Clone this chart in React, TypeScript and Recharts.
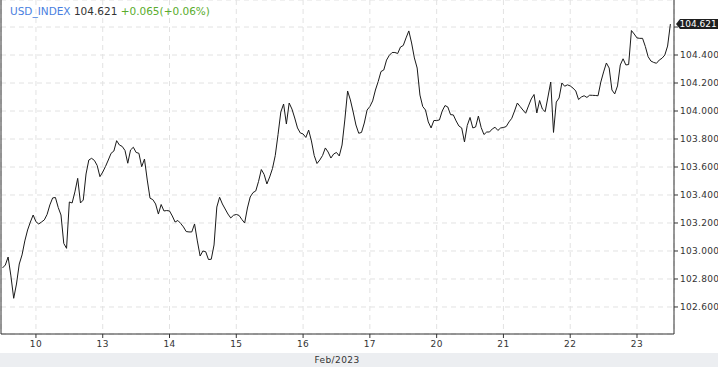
import React from "react";
import { LineChart, Line, XAxis, YAxis, CartesianGrid, ReferenceLine } from "recharts";

const symbol = "USD_INDEX";
const changeAbs = 0.065;
const changePct = 0.06;
const dayLabels = ["10", "13", "14", "15", "16", "17", "20", "21", "22", "23"];
const monthLabel = "Feb/2023";
const firstHourOfSeries = 12; // series begins at 12:00 of the day before the first label
const priceTicks = [102.6, 102.8, 103.0, 103.2, 103.4, 103.6, 103.8, 104.0, 104.2, 104.4, 104.6];

const hourlyClose = [
  102.879, 102.900, 102.957, 102.822, 102.662, 102.764, 102.907, 102.972, 103.072, 103.150,
  103.207, 103.257, 103.209, 103.193, 103.207, 103.222, 103.261, 103.329, 103.379, 103.382,
  103.311, 103.257, 103.054, 103.019, 103.350, 103.343, 103.422, 103.519, 103.343, 103.364,
  103.550, 103.650, 103.662, 103.647, 103.611, 103.531, 103.564, 103.604, 103.650, 103.698,
  103.714, 103.788, 103.757, 103.747, 103.718, 103.627, 103.722, 103.741, 103.704, 103.698,
  103.602, 103.657, 103.507, 103.377, 103.367, 103.336, 103.264, 103.332, 103.286, 103.289,
  103.286, 103.250, 103.207, 103.218, 103.197, 103.172, 103.139, 103.136, 103.136, 103.193,
  103.072, 102.964, 103.000, 102.995, 102.939, 102.941, 103.043, 103.314, 103.384, 103.336,
  103.300, 103.264, 103.236, 103.255, 103.261, 103.254, 103.225, 103.200, 103.307, 103.386,
  103.417, 103.429, 103.497, 103.582, 103.547, 103.479, 103.529, 103.589, 103.682, 103.832,
  103.993, 104.050, 103.907, 104.057, 104.014, 103.950, 103.879, 103.843, 103.836, 103.811,
  103.864, 103.786, 103.682, 103.625, 103.650, 103.682, 103.736, 103.707, 103.664, 103.693,
  103.704, 103.679, 103.757, 103.936, 104.143, 104.079, 103.993, 103.900, 103.841, 103.847,
  103.914, 104.007, 104.032, 104.072, 104.150, 104.211, 104.282, 104.293, 104.364, 104.398,
  104.418, 104.418, 104.411, 104.457, 104.468, 104.522, 104.572, 104.486, 104.379, 104.307,
  104.114, 104.032, 104.007, 103.922, 103.879, 103.932, 103.932, 103.936, 104.000, 104.039,
  104.029, 103.974, 103.972, 103.929, 103.893, 103.879, 103.779, 103.897, 103.954, 103.879,
  103.886, 103.964, 103.882, 103.832, 103.850, 103.850, 103.872, 103.884, 103.861, 103.879,
  103.882, 103.889, 103.922, 103.948, 104.000, 104.057, 104.032, 104.007, 103.984, 104.036,
  104.086, 104.118, 103.986, 104.075, 104.014, 103.995, 104.100, 104.207, 103.847, 104.064,
  104.093, 104.200, 104.177, 104.187, 104.179, 104.164, 104.143, 104.082, 104.100, 104.109,
  104.097, 104.113, 104.112, 104.111, 104.109, 104.207, 104.279, 104.343, 104.307, 104.150,
  104.122, 104.179, 104.329, 104.373, 104.329, 104.332, 104.575, 104.550, 104.522, 104.519,
  104.519, 104.461, 104.388, 104.357, 104.347, 104.341, 104.364, 104.377, 104.400, 104.464,
  104.621,
];

const data = hourlyClose.map((v, i) => ({ h: i, v }));
const dayTicks = dayLabels.map((_, i) => firstHourOfSeries + i * 24);
const lastPrice = hourlyClose[hourlyClose.length - 1];

const FONT = "'DejaVu Sans', sans-serif";

const PriceTag = (props: any) => {
  const vb = props.viewBox || {};
  const x0 = vb.x + vb.width + 2;
  const y = vb.y;
  const w = 44;
  const h = 10;
  const path = `M${x0},${y} L${x0 + 4},${y - h / 2} L${x0 + w},${y - h / 2} L${x0 + w},${y + h / 2} L${x0 + 4},${y + h / 2} Z`;
  return (
    <g>
      <path d={path} fill="#1e1e1e" />
      <text x={x0 + 3.5} y={y} dy="0.36em" fill="#ffffff" fontSize={9} fontFamily={FONT}>
        {lastPrice.toFixed(3)}
      </text>
    </g>
  );
};

export default function App() {
  return (
    <div style={{ position: "absolute", left: 0, top: 0, width: 718, height: 367, background: "#ffffff", overflow: "hidden" }}>
      <div style={{ position: "absolute", left: 0, top: 353, width: 718, height: 14, background: "#eceef1" }} />
      <div
        style={{
          position: "absolute",
          left: 0,
          top: 353,
          width: 674,
          textAlign: "center",
          fontFamily: FONT,
          fontSize: 9,
          lineHeight: "14px",
          color: "#333",
          letterSpacing: 0.4,
        }}
      >
        {monthLabel}
      </div>
      <div style={{ position: "absolute", left: 0, top: 0 }}>
        <LineChart width={718} height={353} data={data} margin={{ top: 0, right: 0, bottom: 0, left: 0 }}>
          <CartesianGrid stroke="#e2e2e2" strokeDasharray="5 4" />
          <XAxis
            dataKey="h"
            type="number"
            domain={[-0.56, 241.3]}
            ticks={dayTicks}
            tickFormatter={(t: number) => dayLabels[Math.round((t - firstHourOfSeries) / 24)]}
            height={19}
            tickSize={4}
            tickMargin={3}
            stroke="#333"
            tick={{ fill: "#333", fontSize: 9, fontFamily: FONT, letterSpacing: 0.4 }}
            allowDataOverflow
          />
          <YAxis
            orientation="right"
            type="number"
            domain={[102.407, 104.793]}
            ticks={priceTicks}
            tickFormatter={(t: number) => (Math.abs(t - lastPrice) < 0.05 ? "" : t.toFixed(3))}
            width={44}
            tickSize={4}
            tickMargin={2}
            stroke="#333"
            tick={{ fill: "#333", fontSize: 9, fontFamily: FONT, letterSpacing: 0.3 }}
            allowDataOverflow
          />
          <YAxis
            yAxisId="left"
            orientation="left"
            width={1}
            tick={false}
            tickLine={false}
            stroke="#333"
          />
          <Line
            type="linear"
            dataKey="v"
            stroke="#1a1a1a"
            strokeWidth={1}
            dot={false}
            isAnimationActive={false}
          />
          <ReferenceLine y={lastPrice} stroke="none" ifOverflow="visible" label={<PriceTag />} />
        </LineChart>
      </div>
      <div
        style={{
          position: "absolute",
          left: 10,
          top: 4,
          fontFamily: FONT,
          fontSize: 10.5,
          lineHeight: "14px",
          whiteSpace: "nowrap",
        }}
      >
        <span style={{ color: "#4a7fe0" }}>{symbol}</span>
        <span style={{ color: "#333" }}> {lastPrice.toFixed(3)} </span>
        <span style={{ color: "#5aac2e" }}>
          +{changeAbs.toFixed(3)}(+{changePct.toFixed(2)}%)
        </span>
      </div>
    </div>
  );
}
